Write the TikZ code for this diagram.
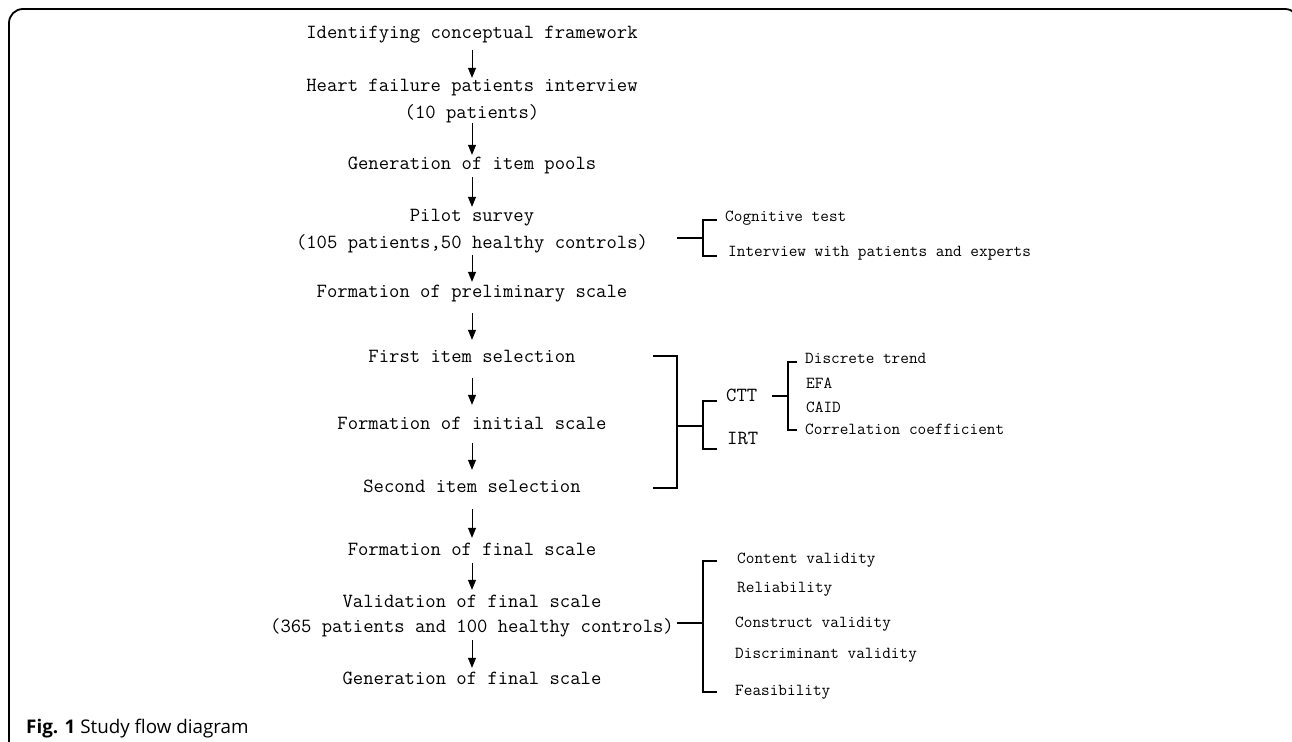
\documentclass[tikz,border=0pt]{standalone}
\usepackage{fontspec}
\newfontfamily\capfont{Open Sans}
\usetikzlibrary{arrows.meta}
\newcommand\flowarrow[4]{\draw[arr] ([yshift=-#3pt]#1.south) -- ([yshift=#4pt]#2.north);}
\begin{document}
\begin{tikzpicture}[x=1pt,y=-1pt,
  main/.style={font=\ttfamily\fontsize{20.1}{22}\selectfont, inner sep=0pt, text height=12pt, text depth=2pt},
  sub/.style={font=\ttfamily\fontsize{16.8}{19}\selectfont, inner sep=0pt, anchor=west, text height=10pt, text depth=2pt},
  arr/.style={line width=0.8pt, -{Triangle[length=10pt,width=8pt]}},
  brk/.style={line width=1.6pt}]
\clip (0,0) rectangle (1292,741);
\useasboundingbox (0,0) rectangle (1292,741);
% frame
\draw[line width=1.8pt, rounded corners=14pt] (9,760) -- (9,9) -- (1299,9) -- (1299,760);
% main column
\node[main] (n1) at (472,34) {Identifying conceptual framework};
\node[main] (n2) at (472,87) {Heart failure patients interview};
\node[main] (n2b) at (472,113) {(10 patients)};
\node[main] (n3) at (472,164) {Generation of item pools};
\node[main] (n4) at (472,216) {Pilot survey};
\node[main] (n4b) at (472,243) {(105 patients,50 healthy controls)};
\node[main] (n5) at (472,292) {Formation of preliminary scale};
\node[main] (n6) at (472,357) {First item selection};
\node[main] (n7) at (472,424) {Formation of initial scale};
\node[main] (n8) at (472,487) {Second item selection};
\node[main] (n9) at (472,550) {Formation of final scale};
\node[main] (n10) at (472,602) {Validation of final scale};
\node[main] (n10b) at (472,627) {(365 patients and 100 healthy controls)};
\node[main] (n11) at (472,679) {Generation of final scale};
\flowarrow{n1}{n2}{9}{2}
\flowarrow{n2b}{n3}{3}{2}
\flowarrow{n3}{n4}{6}{2}
\flowarrow{n4b}{n5}{5}{3}
\flowarrow{n5}{n6}{14}{10}
\flowarrow{n6}{n7}{14}{12}
\flowarrow{n7}{n8}{12}{10}
\flowarrow{n8}{n9}{15}{5}
\flowarrow{n9}{n10}{6}{5}
\flowarrow{n10b}{n11}{6}{4}
% pilot survey branch
\node[sub] (cog) at (725,217) {Cognitive test};
\node[sub] (intv) at (728,252) {Interview with patients and experts};
\coordinate (p0) at (677,238);
\coordinate (p1) at (703,238);
\coordinate (pT) at (717,220);
\coordinate (pB) at (717,256);
\draw[brk] (p0) -- (p1);
\draw[brk] (pT) -- (pT -| p1) -- (pB -| p1) -- (pB);
% item selection branch
\coordinate (bT) at (653,356);
\coordinate (bB) at (653,488);
\coordinate (bs) at (677,426);
\coordinate (bs2) at (703,426);
\draw[brk] (bT) -- (677,356) -- (677,488) -- (bB);
\draw[brk] (bs) -- (bs2);
\node[main, anchor=west] (ctt) at (726,396) {CTT};
\node[main, anchor=west] (irt) at (727,439) {IRT};
\coordinate (sT) at (717,401);
\coordinate (sB) at (717,449);
\draw[brk] (sT) -- (703,401) -- (703,449) -- (sB);
\coordinate (c0) at (772,396);
\coordinate (c1) at (788,396);
\draw[brk] (c0) -- (c1);
\coordinate (cT) at (797,362);
\coordinate (cB) at (797,430);
\draw[brk] (cT) -- (788,362) -- (788,430) -- (cB);
\node[sub] (dt) at (805,359) {Discrete trend};
\node[sub] (efa) at (806,384) {EFA};
\node[sub] (caid) at (806,408) {CAID};
\node[sub] (cc) at (805,430) {Correlation coefficient};
% validation branch
\coordinate (v0) at (677,623);
\coordinate (v1) at (703,623);
\draw[brk] (v0) -- (v1);
\coordinate (vT) at (717,561);
\coordinate (vB) at (717,692);
\draw[brk] (vT) -- (703,561) -- (703,692) -- (vB);
\node[sub] (cv) at (737,559) {Content validity};
\node[sub] (rel) at (737,588) {Reliability};
\node[sub] (cons) at (735,623) {Construct validity};
\node[sub] (disc) at (735,654) {Discriminant validity};
\node[sub] (feas) at (735,691) {Feasibility};
% caption
\node[anchor=base west, inner sep=0pt, font=\capfont\fontsize{18.8}{21}\selectfont] (cap) at (26,733) {\textbf{Fig. 1} Study flow diagram};
\end{tikzpicture}
\end{document}
